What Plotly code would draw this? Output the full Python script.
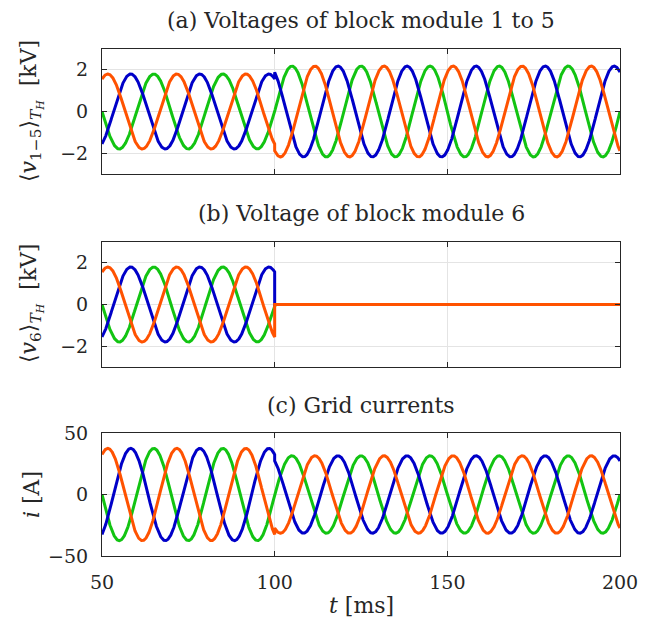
import numpy as np
import plotly.graph_objects as go

# ---- data ----
freq_hz = 50.0                     # grid frequency
t_start, t_step, t_end = 50.0, 100.0, 200.0   # ms
phase_names = ["green", "blue", "orange"]
phase_shift_deg = [0.0, 120.0, -120.0]        # relative phase of each line
phase_colors = ["#12C412", "#0000C8", "#FF5200"]

# amplitudes before / after the step at 100 ms
amp_v15_before = [1.8, 1.8, 1.8]        # kV
amp_v15_after = [2.18, 2.18, 2.18]      # kV
amp_v6_before = [1.8, 1.8, 1.8]         # kV
amp_v6_after = [0.0, 0.0, 0.0]          # kV
amp_i_before = [37.5, 37.5, 37.5]       # A
amp_i_after = [31.5, 31.5, 31.5]        # A

x_ticks = [50, 100, 150, 200]
y_ticks_v = [-2, 0, 2]
y_ticks_i = [-50, 0, 50]

titles = ["(a) Voltages of block module 1 to 5",
          "(b) Voltage of block module 6",
          "(c) Grid currents"]

# ---- build waveforms ----
t1 = np.arange(t_start, t_step + 1e-9, 0.05)
t2 = np.arange(t_step, t_end + 1e-9, 0.05)
w = 2 * np.pi * freq_hz / 1000.0


def wave(a_before, a_after, k):
    ph = np.deg2rad(phase_shift_deg[k])
    y1 = a_before[k] * np.sin(w * t1 + ph)
    y2 = a_after[k] * np.sin(w * t2 + ph)
    return np.concatenate([t1, t2]), np.concatenate([y1, y2])


fig = go.Figure()
W, H = 646, 624
FONT = "DejaVu Serif"
TXT = "#262626"
x_dom = [102 / W, 620 / W]
panels = [
    (49, 174, amp_v15_before, amp_v15_after, [-3, 3], y_ticks_v),
    (242, 367, amp_v6_before, amp_v6_after, [-3, 3], y_ticks_v),
    (433, 556, amp_i_before, amp_i_after, [-50, 50], y_ticks_i),
]

layout = dict(
    width=W, height=H,
    margin=dict(l=0, r=0, t=0, b=0, pad=0, autoexpand=False),
    paper_bgcolor="white", plot_bgcolor="white",
    showlegend=False,
    font=dict(family=FONT, size=19, color=TXT),
)

for p, (top, bot, ab, aa, yr, yt) in enumerate(panels):
    idx = "" if p == 0 else str(p + 1)
    for k in range(3):
        x, y = wave(ab, aa, k)
        fig.add_trace(go.Scatter(x=x, y=y, mode="lines",
                                 line=dict(color=phase_colors[k], width=3),
                                 xaxis="x" + idx, yaxis="y" + idx,
                                 name=phase_names[k], hoverinfo="skip"))
    layout["xaxis" + idx] = dict(
        domain=x_dom, range=[t_start, t_end], tickvals=x_ticks,
        showticklabels=(p == 2), anchor="y" + idx, automargin=False,
        ticks="inside", ticklen=5, tickcolor=TXT,
        showline=True, linecolor=TXT, linewidth=1, mirror="ticks",
        showgrid=True, gridcolor="#E4E4E4", gridwidth=1, zeroline=False,
        tickfont=dict(family=FONT, size=19, color=TXT),
        ticklabelstandoff=9,
    )
    layout["yaxis" + idx] = dict(
        domain=[1 - bot / H, 1 - top / H], range=yr, tickvals=yt,
        ticktext=[("\u2212" + str(abs(v))) if v < 0 else str(v) for v in yt],
        anchor="x" + idx, automargin=False,
        ticks="inside", ticklen=5, tickcolor=TXT,
        showline=True, linecolor=TXT, linewidth=1, mirror="ticks",
        showgrid=True, gridcolor="#E4E4E4", gridwidth=1, zeroline=False,
        tickfont=dict(family=FONT, size=19, color=TXT),
        ticklabelstandoff=9,
    )

fig.update_layout(**layout)

ann = []
title_y = [20, 213, 405]
for p in range(3):
    ann.append(dict(text=titles[p], x=361 / W, y=1 - title_y[p] / H,
                    xref="paper", yref="paper", showarrow=False,
                    xanchor="center", yanchor="middle",
                    font=dict(family=FONT, size=22, color=TXT)))
ylabels = [
    "\u27e8<i>v</i><sub>1\u22125</sub>\u27e9<sub><i>T<sub>H</sub></i></sub>  [kV]",
    "\u27e8<i>v</i><sub>6</sub>\u27e9<sub><i>T<sub>H</sub></i></sub>  [kV]",
    "<i>i</i> [A]",
]
ylab_y = [111, 304, 495]
for p in range(3):
    ann.append(dict(text=ylabels[p], x=31 / W, y=1 - ylab_y[p] / H,
                    xref="paper", yref="paper", showarrow=False,
                    textangle=-90, xanchor="center", yanchor="middle",
                    font=dict(family=FONT, size=22, color=TXT)))
ann.append(dict(text="<i>t</i> [ms]", x=361 / W, y=1 - 605 / H,
                xref="paper", yref="paper", showarrow=False,
                xanchor="center", yanchor="middle",
                font=dict(family=FONT, size=22, color=TXT)))
fig.update_layout(annotations=ann)

fig.write_html("out.html")
